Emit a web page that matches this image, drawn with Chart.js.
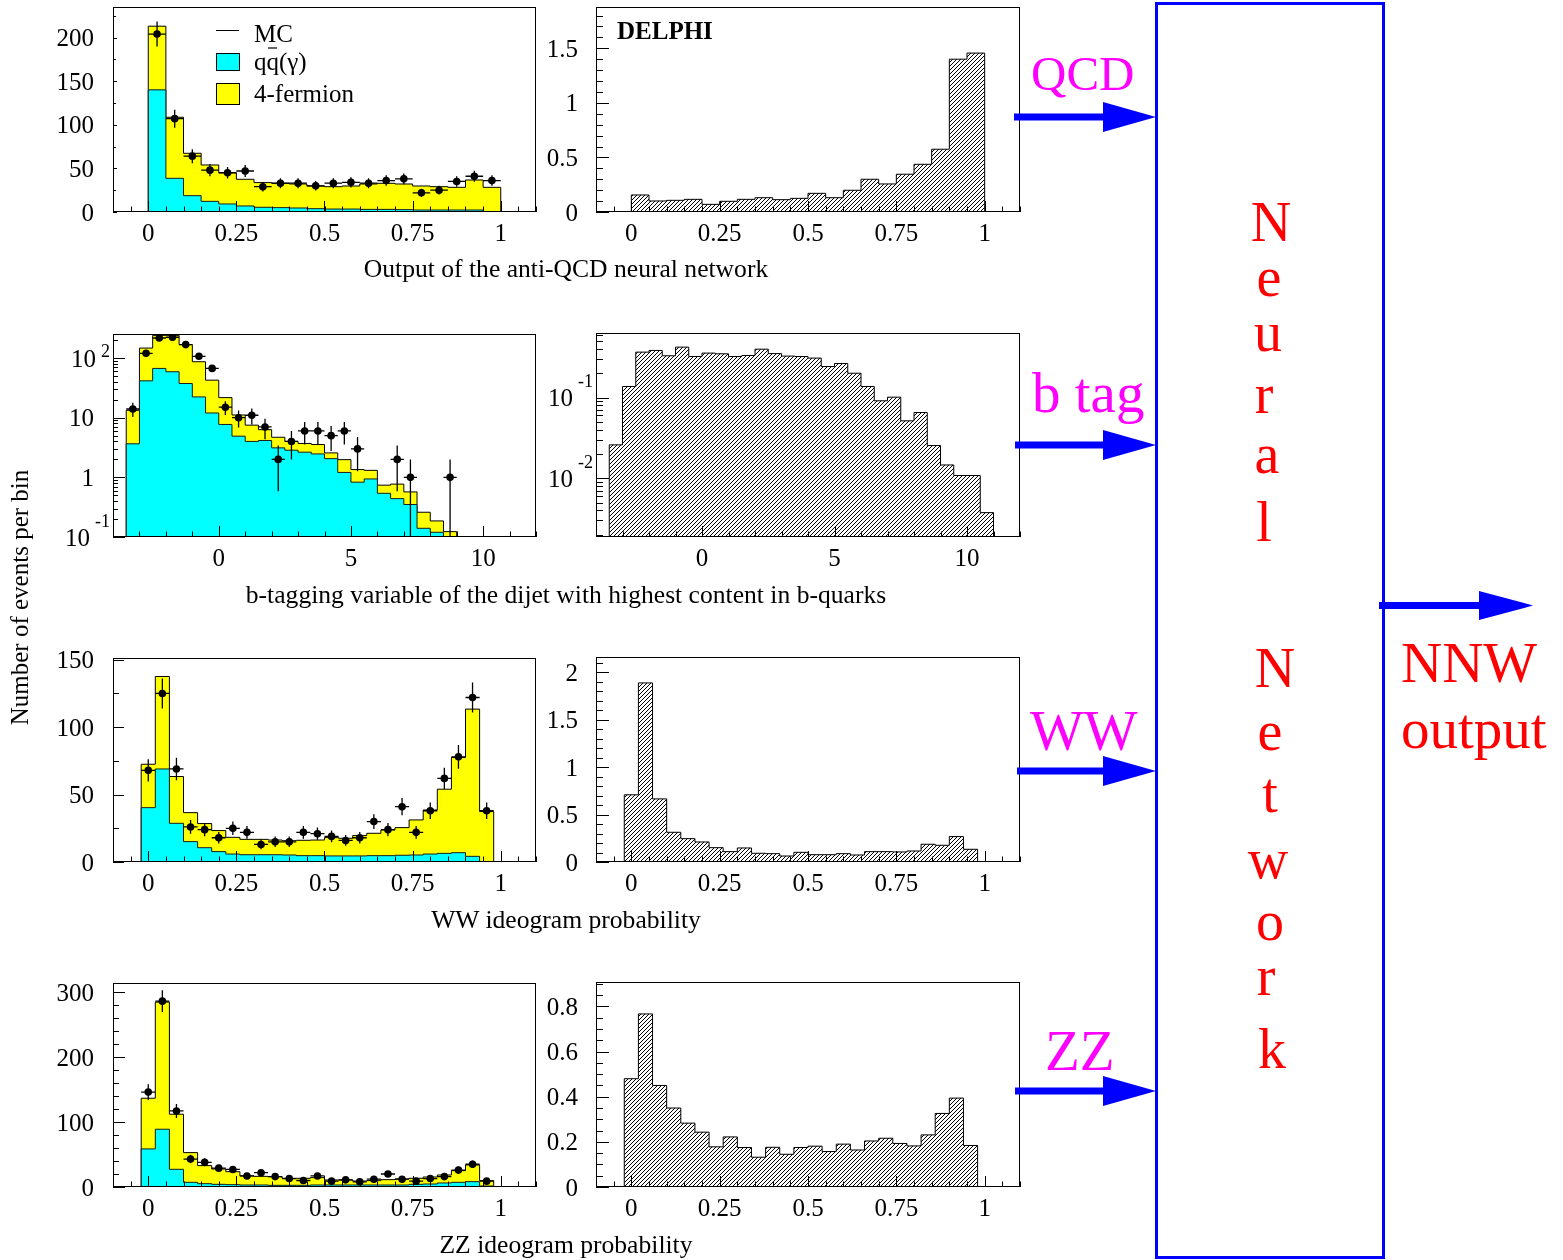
<!DOCTYPE html>
<html><head><meta charset="utf-8">
<script src="https://cdn.jsdelivr.net/npm/chart.js@4.4.1/dist/chart.umd.min.js"></script>
<style>
html,body{margin:0;padding:0;background:#fff;}
body{width:1563px;height:1260px;position:relative;overflow:hidden;}
#charts canvas{position:absolute;}
#ov{position:absolute;left:0;top:0;}
</style></head><body>
<div id="charts"></div>
<svg id="ov" width="1563" height="1260" font-family="'Liberation Serif','Times New Roman',serif">
  <text x="28" y="597.5" transform="rotate(-90 28 597.5)" text-anchor="middle" font-size="25">Number of events per bin</text>
  <text x="566" y="277" text-anchor="middle" font-size="25.6">Output of the anti-QCD neural network</text>
  <text x="566" y="603" text-anchor="middle" font-size="25.6">b-tagging variable of the dijet with highest content in b-quarks</text>
  <text x="566" y="928" text-anchor="middle" font-size="25.6">WW ideogram probability</text>
  <text x="566" y="1253" text-anchor="middle" font-size="25.6">ZZ ideogram probability</text>
  <line x1="216" y1="30.5" x2="239" y2="30.5" stroke="#000" stroke-width="1"/>
  <rect x="216.5" y="53.5" width="23" height="17" fill="#00ffff" stroke="#000" stroke-width="1"/>
  <rect x="216.5" y="83.5" width="23" height="21" fill="#ffff00" stroke="#000" stroke-width="1"/>
  <text x="254" y="41.7" font-size="25">MC</text>
  <line x1="268" y1="48" x2="277" y2="48" stroke="#000" stroke-width="1.2"/>
  <text x="254" y="69.5" font-size="25">qq(γ)</text>
  <text x="254" y="102.3" font-size="25">4-fermion</text>
  <text x="617" y="38.5" font-size="25" font-weight="bold">DELPHI</text>
  <rect x="1156.5" y="3.5" width="227" height="1254" fill="none" stroke="#0000ff" stroke-width="3"/>
  <g fill="#0000ff">
    <rect x="1014" y="113.5" width="92" height="7"/><polygon points="1103,102 1156,117 1103,132"/>
    <rect x="1015" y="441.5" width="91" height="7"/><polygon points="1103,430 1156,445 1103,460"/>
    <rect x="1017" y="767.5" width="89" height="7"/><polygon points="1103,756 1156,771 1103,786"/>
    <rect x="1015" y="1087.5" width="91" height="7"/><polygon points="1103,1076 1156,1091 1103,1106"/>
    <rect x="1379" y="602" width="103" height="7"/><polygon points="1479,591 1533,605.5 1479,620"/>
  </g>
  <g fill="#ff00ff">
    <text x="1031" y="90" font-size="49">QCD</text>
    <text x="1032" y="412" font-size="57">b tag</text>
    <text x="1030" y="750" font-size="57">WW</text>
    <text x="1045" y="1070" font-size="57">ZZ</text>
  </g>
  <g fill="#ff0000" font-size="56" text-anchor="middle">
    <text x="1271" y="241">N</text>
    <text x="1269" y="296">e</text>
    <text x="1268" y="351">u</text>
    <text x="1264" y="413">r</text>
    <text x="1267" y="473">a</text>
    <text x="1264" y="541">l</text>
    <text x="1275" y="687">N</text>
    <text x="1270" y="750">e</text>
    <text x="1270" y="812">t</text>
    <text x="1268" y="878">w</text>
    <text x="1270" y="940">o</text>
    <text x="1266" y="995">r</text>
    <text x="1272" y="1068">k</text>
  </g>
  <g fill="#ff0000" font-size="57">
    <text x="1401" y="682">NNW</text>
    <text x="1401" y="748">output</text>
  </g>
</svg>
<script>
// ---------- data ----------
// bin lower edges
const qcdBinLow = [0,0.05,0.1,0.15,0.2,0.25,0.3,0.35,0.4,0.45,0.5,0.55,0.6,0.65,0.7,0.75,0.8,0.85,0.9,0.95];
const btagBinLow = [-3.5,-3,-2.5,-2,-1.5,-1,-0.5,0,0.5,1,1.5,2,2.5,3,3.5,4,4.5,5,5.5,6,6.5,7,7.5,8,8.5];
const btagSigBinLow = [-3.5,-3,-2.5,-2,-1.5,-1,-0.5,0,0.5,1,1.5,2,2.5,3,3.5,4,4.5,5,5.5,6,6.5,7,7.5,8,8.5,9,9.5,10,10.5];
const ideoBinLow = [-0.02,0.02,0.06,0.1,0.14,0.18,0.22,0.26,0.3,0.34,0.38,0.42,0.46,0.5,0.54,0.58,0.62,0.66,0.7,0.74,0.78,0.82,0.86,0.9,0.94];

// anti-QCD neural network output
const qcdMcTotal = [213,108.6,67.3,53.9,45,37.5,33.7,32.9,32.1,29.8,29,29.8,32.1,32.9,32.1,29.8,29,28.3,36.7,28.3];
const qcdMcQQ = [140,38.6,18.7,12.2,9.2,6.9,5.4,5,4.6,3.8,3.4,3.4,3,3,2.7,2.3,2.3,2.3,2.3,0];
const qcdData = [204,107,64,48,45,47,29,33,33,30,33,34,33,36,38,22,25,35,41,36];
const qcdSignal = [0.156,0.101,0.107,0.116,0.07,0.098,0.116,0.131,0.113,0.125,0.171,0.131,0.199,0.3,0.257,0.346,0.437,0.575,1.40,1.456];

// b-tagging variable
const btagMcTotal = [13.3,147,240,240,168,86.7,42.6,21.7,11.1,7.5,6.3,4.7,4.0,3.7,3.55,2.57,1.98,1.35,1.31,0.74,0.77,0.57,0.26,0.186,0.123];
const btagMcQQ = [3.65,41.5,67,58.9,37.4,22.3,12.0,7.7,4.9,4.0,4.15,3.12,2.85,2.64,2.47,2.06,1.21,0.83,0.94,0.54,0.44,0.35,0.14,0.12,0];
const btagData = [14,120,217,223,168,107,67,15,10,11,7,2,4,6,6,5,6,3,0,0,2,1,0,0,1];
const btagSignal = [0.0259,0.137,0.365,0.383,0.329,0.421,0.322,0.355,0.348,0.322,0.332,0.397,0.35,0.326,0.322,0.308,0.242,0.264,0.2,0.137,0.091,0.101,0.0514,0.0652,0.0254,0.0146,0.0108,0.0108,0.00375];

// WW ideogram probability
const wwMcTotal = [72.5,137.6,63.4,36.6,28.5,23.3,18.3,16.8,16.8,16.3,15.8,16.1,16.3,18.1,17.6,19.6,21.3,23.8,25.5,31.2,38.6,54,77.5,113.4,37.4];
const wwMcQQ = [40.3,69,28.7,15.1,10.6,7.7,5.9,5.4,5.4,5.4,5.2,4.7,4.7,4.5,4.5,4.5,4.7,4.7,5,5.2,5.9,6.4,6.9,4.2,0];
const wwData = [68,125,69,26,24,18,25,22,13,15,15,22,21,19,16,18,30,24,41,22,38,62,78,122,38];
const wwSignal = [0.708,1.887,0.665,0.313,0.246,0.211,0.151,0.109,0.148,0.092,0.088,0.063,0.102,0.077,0.077,0.088,0.074,0.109,0.109,0.106,0.116,0.187,0.176,0.268,0.134];

// ZZ ideogram probability
const zzMcTotal = [136.6,284.5,112,52.9,32.9,27.7,23.6,17,16.4,15.9,13.4,13.4,14.4,10.8,10.8,9.2,9.8,11.3,12.3,13.4,15.4,18.5,25.2,33.9,9.8];
const zzMcQQ = [58.6,88.9,27.2,7.2,5.1,4.1,3.6,3.1,3.1,2.6,2.6,2.6,3.1,3.1,3.1,3.1,3.1,3.1,3.1,4.1,4.6,6.2,7.2,8.2,1.5];
const zzData = [146,286,117,43,38,29,27,17,22,16,13,10,17,9,11,8,12,20,12,9,13,16,26,35,9];
const zzSignal = [0.48,0.767,0.45,0.35,0.283,0.243,0.178,0.222,0.175,0.132,0.176,0.145,0.175,0.181,0.157,0.19,0.164,0.204,0.216,0.193,0.182,0.231,0.326,0.394,0.184];

// tick labels
const probXTicks = [0, 0.25, 0.5, 0.75, 1];
const btagXTicks = [0, 5, 10];
const qcdYTicks = [0, 50, 100, 150, 200];
const qcdSigYTicks = [0, 0.5, 1, 1.5];
const btagYTicks = [0.1, 1, 10, 100];
const btagSigYTicks = [0.01, 0.1];
const wwYTicks = [0, 50, 100, 150];
const wwSigYTicks = [0, 0.5, 1, 1.5, 2];
const zzYTicks = [0, 100, 200, 300];
const zzSigYTicks = [0, 0.2, 0.4, 0.6, 0.8];

// ---------- drawing ----------
Chart.defaults.font.family = "'Liberation Serif','Times New Roman',serif";
Chart.defaults.color = '#000';
const FONT = {family: "'Liberation Serif','Times New Roman',serif", size: 25};
const PADL = 110, PADT = 45, PADR = 20, PADB = 50, XAXH = 44, YLAB_OFF = 2;

const hatch = (() => {
  const c = document.createElement('canvas'); c.width = 4; c.height = 4;
  const g = c.getContext('2d');
  g.fillStyle = '#000';
  for (let i = 0; i < 4; i++) g.fillRect(i, 3 - i, 1, 1);
  return g.createPattern(c, 'repeat');
})();

function hist(low, w, vals, floorV) {
  const f = v => (v > 0 ? v : floorV);
  const pts = [{x: low[0], y: f(0)}];
  low.forEach((l, i) => pts.push({x: l, y: f(vals[i])}));
  pts.push({x: low[low.length - 1] + w, y: f(0)});
  return pts;
}

function panel(p) {
  const [fl, ft, fr, fb] = p.frame;
  const cv = document.createElement('canvas');
  cv.width = (fr - fl) + PADL + PADR;
  cv.height = (fb - ft) + PADT + PADB;
  cv.style.left = (fl - PADL) + 'px';
  cv.style.top = (ft - PADT) + 'px';
  document.getElementById('charts').appendChild(cv);
  const isLog = p.yType === 'logarithmic';
  const floorV = isLog ? p.yMin : 0;
  const datasets = [];
  if (p.total) datasets.push({data: hist(p.binLow, p.binW, p.total, floorV), stepped: true, fill: 'start',
    backgroundColor: '#ffff00', borderColor: '#000', borderWidth: 1, pointRadius: 0, order: 3});
  if (p.qq) datasets.push({data: hist(p.binLow, p.binW, p.qq, floorV), stepped: true, fill: 'start',
    backgroundColor: '#00ffff', borderColor: '#1a1a1a', borderWidth: 1, pointRadius: 0, order: 2});
  if (p.signal) datasets.push({data: hist(p.binLow, p.binW, p.signal, floorV), stepped: true, fill: 'start',
    backgroundColor: hatch, borderColor: '#000', borderWidth: 1, pointRadius: 0, order: 3});
  if (p.data) datasets.push({data: p.data.map((n, i) => ({x: p.binLow[i] + p.binW / 2, y: n})).filter(d => d.y > 0),
    showLine: false, pointRadius: 3.8, pointBackgroundColor: '#000', pointBorderColor: '#000', pointBorderWidth: 0, order: 1});

  const errPlugin = {
    id: 'err',
    afterDatasetsDraw(chart) {
      if (!p.data) return;
      const {ctx, chartArea: a, scales: {x, y}} = chart;
      ctx.save();
      ctx.beginPath(); ctx.rect(a.left, a.top, a.width, a.height); ctx.clip();
      ctx.strokeStyle = '#000'; ctx.lineWidth = 1.3;
      ctx.beginPath();
      p.data.forEach((n, i) => {
        if (!(n > 0)) return;
        const lo = p.binLow[i], c = lo + p.binW / 2, e = Math.sqrt(n);
        const py = y.getPixelForValue(n);
        ctx.moveTo(x.getPixelForValue(lo), py); ctx.lineTo(x.getPixelForValue(lo + p.binW), py);
        const yl = (n - e > 0) ? y.getPixelForValue(n - e) : a.bottom;
        const cx = x.getPixelForValue(c);
        ctx.moveTo(cx, yl); ctx.lineTo(cx, y.getPixelForValue(n + e));
      });
      ctx.stroke();
      ctx.restore();
    }
  };

  const axisPlugin = {
    id: 'frameAxes',
    afterDraw(chart) {
      const {ctx, chartArea: a, scales: {x, y}} = chart;
      ctx.save();
      ctx.strokeStyle = '#000'; ctx.lineWidth = 1;
      ctx.strokeRect(a.left + 0.5, a.top + 0.5, a.width - 1, a.height - 1);
      ctx.beginPath();
      const xt = (v, len) => { const px = Math.round(x.getPixelForValue(v)) + 0.5; ctx.moveTo(px, a.bottom); ctx.lineTo(px, a.bottom - len); };
      const yt = (v, len) => { const py = Math.round(y.getPixelForValue(v)) + 0.5; ctx.moveTo(a.left, py); ctx.lineTo(a.left + len, py); };
      const nx = Math.round((p.xMax - p.xMin) / p.xMinorStep);
      for (let i = 0; i <= nx; i++) xt(p.xMin + i * p.xMinorStep, 5.5);
      p.xTicks.forEach(v => xt(v, 11));
      if (isLog) {
        const d0 = Math.floor(Math.log10(p.yMin)), d1 = Math.ceil(Math.log10(p.yMax));
        for (let d = d0; d <= d1; d++) for (let k = 2; k <= 9; k++) {
          const v = k * Math.pow(10, d);
          if (v > p.yMin && v < p.yMax) yt(v, p.yMinLen);
        }
      } else {
        const ny = Math.floor((p.yMax - p.yMin) / p.yMinorStep + 1e-6);
        for (let i = 0; i <= ny; i++) yt(p.yMin + i * p.yMinorStep, p.yMinLen);
      }
      p.yTicks.forEach(v => yt(v, p.yMajLen));
      ctx.stroke();
      if (isLog) {
        ctx.fillStyle = '#000';
        ctx.textBaseline = 'middle'; ctx.textAlign = 'right';
        p.yTicks.forEach(v => {
          const e = Math.round(Math.log10(v));
          const py = y.getPixelForValue(v) + YLAB_OFF;
          ctx.font = "25px 'Liberation Serif'";
          if (e === 0 || e === 1) { ctx.fillText(e === 0 ? '1' : '10', a.left - p.yPad, py); return; }
          const sup = String(e);
          ctx.font = "18px 'Liberation Serif'";
          const sw = ctx.measureText(sup).width;
          const sx = a.left - 3;
          ctx.fillText(sup, sx, py - (e > 0 ? 8 : 17));
          ctx.font = "25px 'Liberation Serif'";
          ctx.fillText('10', sx - sw - 5, py);
        });
      }
      ctx.restore();
    }
  };

  new Chart(cv, {
    type: 'line',
    data: {datasets},
    options: {
      responsive: false, animation: false, events: [],
      layout: {padding: {left: 0, top: PADT, right: PADR, bottom: PADB - XAXH}},
      plugins: {legend: {display: false}, tooltip: {enabled: false}},
      elements: {line: {tension: 0}},
      scales: {
        x: {
          type: 'linear', position: 'bottom', min: p.xMin, max: p.xMax,
          grid: {display: false, drawTicks: false, drawOnChartArea: false}, border: {display: false},
          afterBuildTicks: s => { s.ticks = p.xTicks.map(v => ({value: v})); },
          afterFit: s => { s.height = XAXH; },
          ticks: {autoSkip: false, maxRotation: 0, padding: 7, color: '#000', font: FONT, callback: v => String(v)}
        },
        y: {
          type: p.yType, position: 'left', min: p.yMin, max: p.yMax,
          grid: {display: false, drawTicks: false, drawOnChartArea: false}, border: {display: false},
          afterBuildTicks: s => { s.ticks = p.yTicks.map(v => ({value: v})); },
          afterFit: s => { s.width = PADL; },
          ticks: {autoSkip: false, padding: p.yPad, labelOffset: YLAB_OFF, color: '#000', font: FONT,
                  callback: isLog ? () => '' : v => String(v)}
        }
      }
    },
    plugins: [errPlugin, axisPlugin]
  });
}

const L = 113, LR = 536, R = 596, RR = 1020;
panel({frame: [L, 7, LR, 212], binLow: qcdBinLow, binW: 0.05, total: qcdMcTotal, qq: qcdMcQQ, data: qcdData,
  xMin: -0.1, xMax: 1.1, xTicks: probXTicks, xMinorStep: 0.05,
  yType: 'linear', yMin: 0, yMax: 235, yTicks: qcdYTicks, yMinorStep: 25, yMajLen: 4, yMinLen: 3, yPad: 19});
panel({frame: [R, 7, RR, 212], binLow: qcdBinLow, binW: 0.05, signal: qcdSignal,
  xMin: -0.1, xMax: 1.1, xTicks: probXTicks, xMinorStep: 0.05,
  yType: 'linear', yMin: 0, yMax: 1.878, yTicks: qcdSigYTicks, yMinorStep: 0.1, yMajLen: 13, yMinLen: 7, yPad: 18});
panel({frame: [L, 334, LR, 537], binLow: btagBinLow, binW: 0.5, total: btagMcTotal, qq: btagMcQQ, data: btagData,
  xMin: -4, xMax: 12, xTicks: btagXTicks, xMinorStep: 1,
  yType: 'logarithmic', yMin: 0.1, yMax: 253, yTicks: btagYTicks, yMajLen: 12, yMinLen: 5, yPad: 19});
panel({frame: [R, 333, RR, 537], binLow: btagSigBinLow, binW: 0.5, signal: btagSignal,
  xMin: -4, xMax: 12, xTicks: btagXTicks, xMinorStep: 1,
  yType: 'logarithmic', yMin: 0.00187, yMax: 0.63, yTicks: btagSigYTicks, yMajLen: 13, yMinLen: 7, yPad: 18});
panel({frame: [L, 658, LR, 862], binLow: ideoBinLow, binW: 0.04, total: wwMcTotal, qq: wwMcQQ, data: wwData,
  xMin: -0.1, xMax: 1.1, xTicks: probXTicks, xMinorStep: 0.05,
  yType: 'linear', yMin: 0, yMax: 151.3, yTicks: wwYTicks, yMinorStep: 25, yMajLen: 11, yMinLen: 6, yPad: 19});
panel({frame: [R, 657, RR, 862], binLow: ideoBinLow, binW: 0.04, signal: wwSignal,
  xMin: -0.1, xMax: 1.1, xTicks: probXTicks, xMinorStep: 0.05,
  yType: 'linear', yMin: 0, yMax: 2.16, yTicks: wwSigYTicks, yMinorStep: 0.1, yMajLen: 13, yMinLen: 7, yPad: 18});
panel({frame: [L, 983, LR, 1187], binLow: ideoBinLow, binW: 0.04, total: zzMcTotal, qq: zzMcQQ, data: zzData,
  xMin: -0.1, xMax: 1.1, xTicks: probXTicks, xMinorStep: 0.05,
  yType: 'linear', yMin: 0, yMax: 313.9, yTicks: zzYTicks, yMinorStep: 20, yMajLen: 12, yMinLen: 6, yPad: 19});
panel({frame: [R, 982, RR, 1187], binLow: ideoBinLow, binW: 0.04, signal: zzSignal,
  xMin: -0.1, xMax: 1.1, xTicks: probXTicks, xMinorStep: 0.05,
  yType: 'linear', yMin: 0, yMax: 0.9085, yTicks: zzSigYTicks, yMinorStep: 0.05, yMajLen: 13, yMinLen: 7, yPad: 18});
</script>
</body></html>
